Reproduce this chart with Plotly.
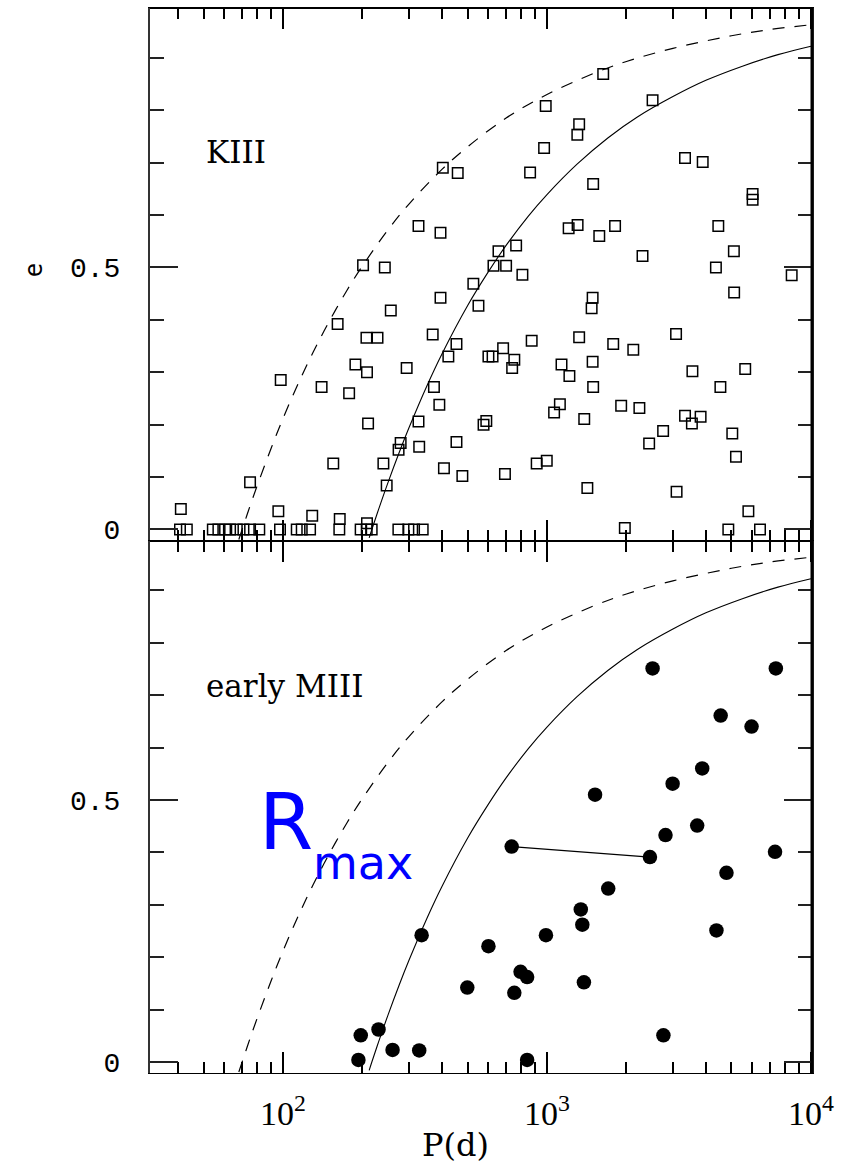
import plotly.graph_objects as go
from plotly.subplots import make_subplots

# ---------------- data ----------------
# KIII (top panel, open squares): orbital period P (days) and eccentricity e
kiii_P = [403, 459, 326, 395, 201, 243, 1633, 989, 2512, 1324, 1303, 975, 863, 3334, 3890,
          1496, 6012, 6012, 1208, 1306, 1578, 1811, 4457, 5105, 2301, 4365, 655, 627, 700, 764,
          807, 8453, 526, 395, 550, 256, 161, 369, 207, 228, 454, 423, 600, 188, 208,
          294, 98, 140, 178, 373, 391, 210, 326, 589, 575, 454, 279, 274, 328, 155,
          240, 407, 478, 75, 247, 41, 96, 129, 164, 208,
          5117, 1489, 1476, 3083, 875, 1324, 1782, 2123, 682, 622, 752, 738, 1135, 1216, 1489,
          1496, 3556, 5636, 4539, 1119, 1064, 1384, 1910, 2239, 3334, 3540, 3819, 2754, 2438, 5035,
          5200, 998, 914, 693, 1422, 3097, 5794, 1972, 4864, 6412,
          40.7, 43.2, 54.2, 56.9, 60.3, 63.0, 66.8, 70.8, 75.0, 81.3, 97.4, 112.7, 117.7, 126.6,
          163.4, 196.8, 207.5, 216.7, 273.5, 298.4, 313.6, 338.2]
kiii_e = [0.690, 0.680, 0.579, 0.566, 0.504, 0.500, 0.869, 0.808, 0.819, 0.773, 0.753, 0.728, 0.681, 0.709, 0.701,
          0.659, 0.640, 0.629, 0.575, 0.581, 0.560, 0.579, 0.579, 0.531, 0.522, 0.500, 0.531, 0.503, 0.503, 0.542,
          0.486, 0.485, 0.469, 0.442, 0.427, 0.418, 0.392, 0.372, 0.366, 0.366, 0.354, 0.330, 0.330, 0.315, 0.300,
          0.308, 0.285, 0.272, 0.260, 0.272, 0.238, 0.202, 0.206, 0.207, 0.200, 0.167, 0.165, 0.152, 0.158, 0.126,
          0.126, 0.117, 0.102, 0.090, 0.084, 0.039, 0.035, 0.026, 0.020, 0.012,
          0.452, 0.442, 0.422, 0.373, 0.360, 0.367, 0.354, 0.343, 0.346, 0.330, 0.324, 0.308, 0.315, 0.293, 0.320,
          0.272, 0.302, 0.306, 0.272, 0.239, 0.223, 0.211, 0.236, 0.232, 0.217, 0.202, 0.215, 0.188, 0.164, 0.183,
          0.139, 0.131, 0.126, 0.106, 0.079, 0.072, 0.035, 0.003, 0.000, 0.000,
          0.0, 0.0, 0.0, 0.0, 0.0, 0.0, 0.0, 0.0, 0.0, 0.0, 0.0, 0.0, 0.0, 0.0,
          0.0, 0.0, 0.0, 0.0, 0.0, 0.0, 0.0, 0.0]

# early MIII (bottom panel, filled circles)
miii_P = [2512, 7362, 4550, 5957, 3873, 2992, 1521, 735, 2455, 2812, 3707, 7311, 4786, 1706, 1343,
          1361, 991, 600, 4385, 794, 841, 1380, 752, 2761, 841, 335, 499, 230, 197, 260, 328, 193]
miii_e = [0.751, 0.751, 0.661, 0.640, 0.560, 0.531, 0.510, 0.411, 0.391, 0.433, 0.451, 0.401, 0.361, 0.331, 0.291,
          0.262, 0.242, 0.221, 0.251, 0.172, 0.162, 0.152, 0.132, 0.051, 0.004, 0.242, 0.142, 0.062, 0.051, 0.023,
          0.022, 0.004]

# pair of MIII points joined by a line
pair_P = [735, 2455]
pair_e = [0.411, 0.391]

# dashed envelope curve
dash_P = [68, 70, 75, 80, 90, 100, 115, 130, 150, 175, 200, 250, 300, 400, 500, 700, 1000, 1500,
          2000, 3000, 5000, 7000, 10000]
dash_e = [-0.019, 0.0, 0.045, 0.085, 0.154, 0.212, 0.282, 0.338, 0.398, 0.457, 0.503, 0.572, 0.621,
          0.687, 0.730, 0.785, 0.830, 0.870, 0.893, 0.918, 0.942, 0.954, 0.963]

# solid envelope curve
solid_P = [212, 217, 230, 250, 275, 300, 350, 400, 500, 600, 700, 850, 1000, 1300, 1700, 2200,
           3000, 4000, 5500, 7500, 10000]
solid_e = [-0.016, 0.0, 0.038, 0.090, 0.146, 0.194, 0.273, 0.335, 0.427, 0.492, 0.542, 0.598, 0.639,
           0.697, 0.747, 0.787, 0.826, 0.857, 0.884, 0.906, 0.922]

x_major = [100, 1000, 10000]
x_major_text = ["10<sup>2</sup>", "10<sup>3</sup>", "10<sup>4</sup>"]
x_minor = [40, 50, 60, 70, 80, 90, 200, 300, 400, 500, 600, 700, 800, 900,
           2000, 3000, 4000, 5000, 6000, 7000, 8000, 9000]
y_major = [0, 0.5]
y_major_text = ["0", "0.5"]
y_minor = [0.1, 0.2, 0.3, 0.4, 0.6, 0.7, 0.8, 0.9]

# ---------------- figure ----------------
fig = make_subplots(rows=2, cols=1, shared_xaxes=True, vertical_spacing=0)

for row in (1, 2):
    fig.add_trace(go.Scatter(x=dash_P, y=dash_e, mode="lines", line_shape="spline",
                             line=dict(color="black", width=1.2, dash="12px,10px"),
                             showlegend=False, hoverinfo="skip"), row=row, col=1)
    fig.add_trace(go.Scatter(x=solid_P, y=solid_e, mode="lines", line_shape="spline",
                             line=dict(color="black", width=1.1),
                             showlegend=False, hoverinfo="skip"), row=row, col=1)

fig.add_trace(go.Scatter(x=kiii_P, y=kiii_e, mode="markers",
                         marker=dict(symbol="square-open", size=10.5, color="black",
                                     line=dict(color="black", width=1.5)),
                         showlegend=False), row=1, col=1)

fig.add_trace(go.Scatter(x=pair_P, y=pair_e, mode="lines",
                         line=dict(color="black", width=1.2),
                         showlegend=False, hoverinfo="skip"), row=2, col=1)
fig.add_trace(go.Scatter(x=miii_P, y=miii_e, mode="markers",
                         marker=dict(symbol="circle", size=14.5, color="black"),
                         showlegend=False), row=2, col=1)

xrange = [1.496, 4.004]
yrange = [-0.021, 0.995]

common_x = dict(type="log", range=xrange, showgrid=False, zeroline=False,
                showline=True, linecolor="black", linewidth=1, mirror="ticks",
                ticks="inside", tickmode="array", tickvals=x_major, ticklen=21,
                tickwidth=1.5, tickcolor="black",
                minor=dict(tickmode="array", tickvals=x_minor, ticks="inside",
                           ticklen=11, tickwidth=1.5, tickcolor="black", showgrid=False))
fig.update_xaxes(**common_x)
fig.update_xaxes(showticklabels=False, row=1, col=1)
fig.update_xaxes(showticklabels=True, ticktext=x_major_text,
                 tickfont=dict(family="Liberation Serif", size=34, color="black"),
                 ticklabelstandoff=10, row=2, col=1)

common_y = dict(range=yrange, showgrid=False, zeroline=False,
                showline=True, linecolor="#333333", linewidth=2, mirror="ticks",
                ticks="inside", tickmode="array", tickvals=y_major, ticktext=y_major_text,
                ticklen=28, tickwidth=1.5, tickcolor="#222222",
                tickfont=dict(family="Liberation Mono", size=28, color="black"),
                ticklabelstandoff=22,
                minor=dict(tickmode="array", tickvals=y_minor, ticks="inside",
                           ticklen=14, tickwidth=1.5, tickcolor="#222222", showgrid=False))
fig.update_yaxes(**common_y)
fig.update_yaxes(domain=[0.5, 1.0], row=1, col=1)
fig.update_yaxes(domain=[0.0, 0.5], row=2, col=1)

# thick right frame edge and slightly heavier top edge
fig.add_shape(type="line", xref="paper", yref="paper", x0=1, x1=1, y0=0, y1=1,
              line=dict(color="black", width=3))
fig.add_shape(type="line", xref="paper", yref="paper", x0=0, x1=1, y0=1, y1=1,
              line=dict(color="black", width=2))

fig.add_annotation(text="KIII", xref="paper", yref="paper", x=0.081, y=0.865,
                   xanchor="left", yanchor="middle", showarrow=False,
                   font=dict(family="DejaVu Serif", size=31, color="black"))
fig.add_annotation(text="early MIII", xref="paper", yref="paper", x=0.081, y=0.363,
                   xanchor="left", yanchor="middle", showarrow=False,
                   font=dict(family="DejaVu Serif", size=31, color="black"))
fig.add_annotation(text="e", xref="paper", yref="paper", x=-0.175, y=0.754,
                   xanchor="center", yanchor="middle", showarrow=False, textangle=-90,
                   font=dict(family="DejaVu Sans Mono", size=24, color="black"))
fig.add_annotation(text="P(d)", xref="paper", yref="paper", x=0.462, y=-0.068,
                   xanchor="center", yanchor="middle", showarrow=False,
                   font=dict(family="DejaVu Serif", size=32, color="black"))
fig.add_annotation(text="R", xref="paper", yref="paper", x=0.2054, y=0.236,
                   xanchor="center", yanchor="middle", showarrow=False,
                   font=dict(family="DejaVu Sans", size=78, color="#0000ff"))
fig.add_annotation(text="max", xref="paper", yref="paper", x=0.322, y=0.197,
                   xanchor="center", yanchor="middle", showarrow=False,
                   font=dict(family="DejaVu Sans", size=46, color="#0000ff"))

fig.update_layout(width=844, height=1165, margin=dict(l=150, r=32, t=8, b=92),
                  paper_bgcolor="white", plot_bgcolor="white", showlegend=False)

fig.write_html("out.html")
